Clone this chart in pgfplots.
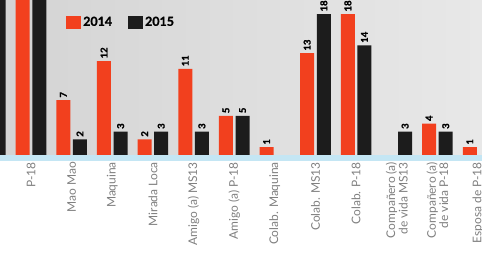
\documentclass[border=0pt]{standalone}
\usepackage{pgfplots}
\pgfplotsset{compat=1.18}
\usepackage{fontspec}
\setmainfont{Lato}
\newfontfamily\heavy{Lato}[FakeBold=1.2]
\definecolor{orng}{HTML}{F2401E}
\definecolor{blk}{HTML}{1C1C1C}
\definecolor{strip}{HTML}{C4E6F4}
\begin{document}
\begin{tikzpicture}
\useasboundingbox (0,0) rectangle (482bp,264bp);
\clip (0,0) rectangle (482bp,264bp);
\fill[white] (0,0) rectangle (482bp,264bp);
\fill[strip] (0,103bp) rectangle (482bp,109bp);
\begin{pgfinterruptboundingbox}
\begin{axis}[
  at={(0,109bp)}, anchor=south west,
  scale only axis, width=482bp, height=155bp,
  xmin=0.237, xmax=12.097, ymin=0, ymax=19.8,
  /pgf/number format/assume math mode=true,
  axis line style={draw=none}, ytick=\empty,
  xtick={1,...,12},
  xticklabels={P-18, Mao Mao, Maquina, Mirada Loca, Amigo (a) MS13, Amigo (a) P-18, Colab. Maquina, Colab. MS13, Colab. P-18, {Compañero (a)\\de vida MS13}, {Compañero (a)\\de vida P-18}, Esposa de P-18},
  xticklabel style={rotate=90, anchor=east, align=right, font=\fontsize{12}{12.5}\selectfont, text=black!50, inner xsep=7bp, inner ysep=0pt},
  major tick length=0pt,
  ybar, bar width=14bp,
  nodes near coords,
  nodes near coords style={rotate=90, anchor=west, font=\heavy\bfseries\fontsize{9.5}{10}\selectfont, text=black, inner sep=2.5pt},
  axis background/.style={left color=black!17, right color=black!9},
  clip=true,
  legend style={at={(0.137,0.858)}, anchor=west, draw=none, fill=none, inner sep=0pt, font=\heavy\bfseries\fontsize{12.5}{13}\selectfont, legend columns=2, /tikz/every even column/.append style={column sep=14bp}},
  legend image code/.code={\fill (-3bp,-6.5bp) rectangle (12bp,6.5bp);},
]
\addplot[fill=orng, draw=none, bar shift=-8.3bp] coordinates {(1,25) (2,7) (3,12) (4,2) (5,11) (6,5) (7,1) (8,13) (9,18) (11,4) (12,1)};
\addplot[fill=blk, draw=none, bar shift=8.3bp] coordinates {(0,25) (1,25) (2,2) (3,3) (4,3) (5,3) (6,5) (8,18) (9,14) (10,3) (11,3)};
\legend{2014, 2015}
\end{axis}
\end{pgfinterruptboundingbox}
\end{tikzpicture}
\end{document}
